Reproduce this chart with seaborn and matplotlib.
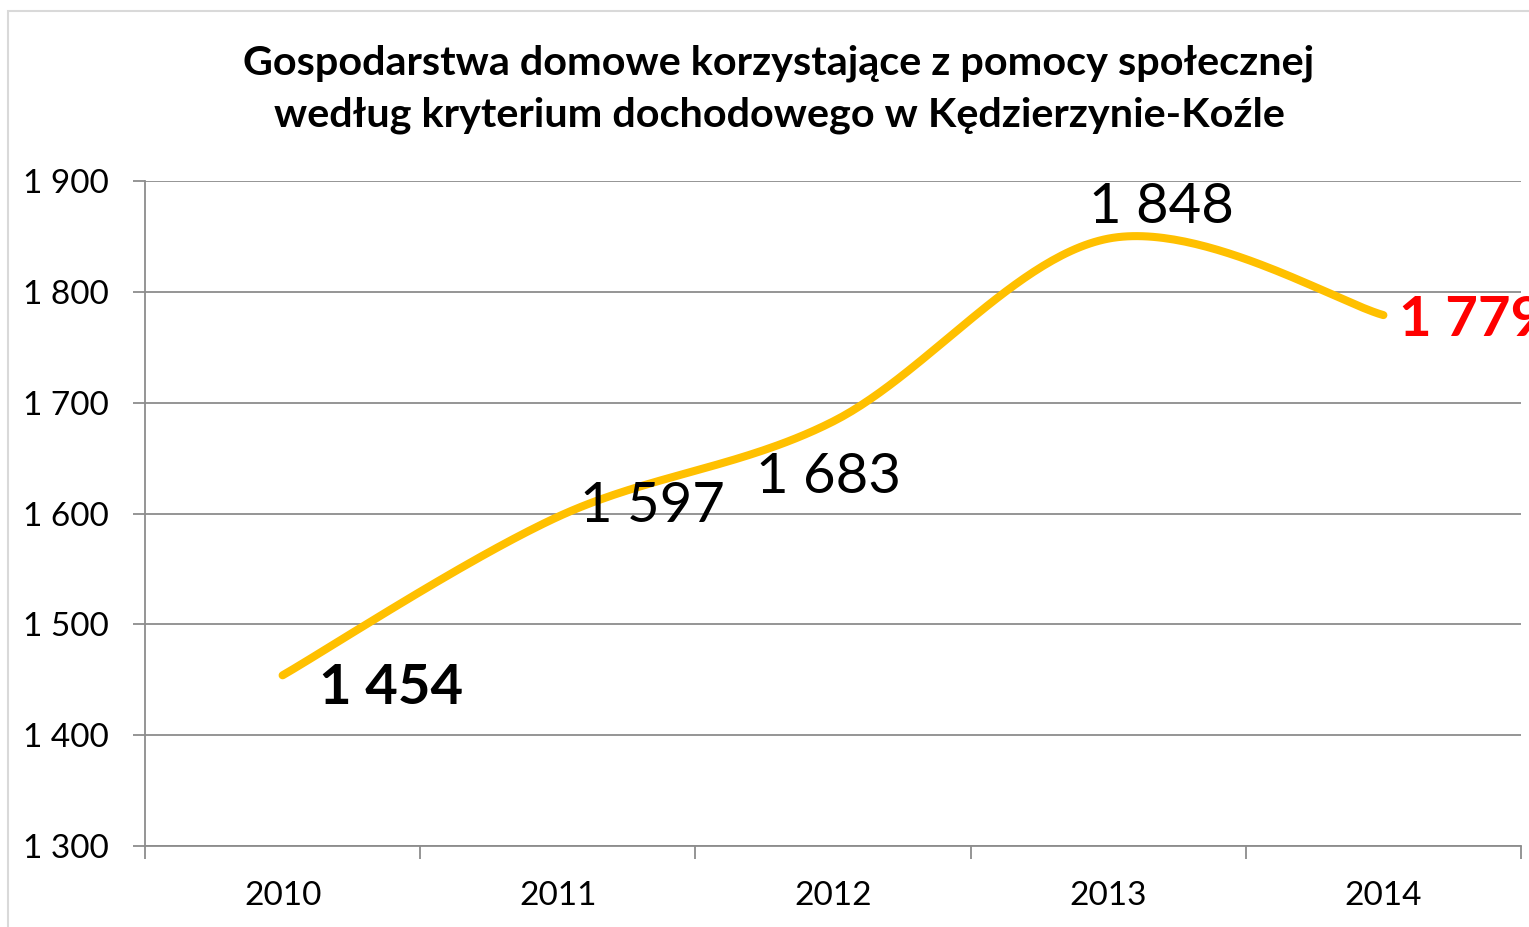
import numpy as np
import pandas as pd
import matplotlib
matplotlib.use('Agg')
import matplotlib.pyplot as plt
import seaborn as sns
from matplotlib.patches import Rectangle
from matplotlib.ticker import FixedLocator, FuncFormatter

years = ['2010', '2011', '2012', '2013', '2014']
households = [1454, 1597, 1683, 1848, 1779]
title = 'Gospodarstwa domowe korzystające z pomocy społecznej\nwedług kryterium dochodowego w Kędzierzynie-Koźle'

sns.set_theme(style='white')
plt.rcParams['font.family'] = ['Lato', 'DejaVu Sans']

fig = plt.figure(figsize=(15.29, 9.27), dpi=100)
ax = fig.add_axes([145 / 1529, 1 - 846 / 927, (1521 - 145) / 1529, (846 - 181) / 927])

# excel-like smoothed line (bezier through the points)
pts = np.array([[i, v] for i, v in enumerate(households)], dtype=float)
n = len(pts)
curve = []
t = np.linspace(0, 1, 60)[:, None]
for i in range(n - 1):
    p0 = pts[max(i - 1, 0)]
    p1 = pts[i]
    p2 = pts[i + 1]
    p3 = pts[min(i + 2, n - 1)]
    c1 = p1 + (p2 - p0) / 6
    c2 = p2 - (p3 - p1) / 6
    seg = (1 - t) ** 3 * p1 + 3 * (1 - t) ** 2 * t * c1 + 3 * (1 - t) * t ** 2 * c2 + t ** 3 * p2
    curve.append(seg if i == 0 else seg[1:])
curve = np.vstack(curve)
smooth = pd.DataFrame({'x': curve[:, 0], 'y': curve[:, 1]})

sns.lineplot(data=smooth, x='x', y='y', ax=ax, color='#FFC000', linewidth=5.8,
             sort=False, solid_capstyle='round', zorder=3)

ax.set_xlim(-0.5, 4.5)
ax.set_ylim(1300, 1900)
ax.set_yticks(range(1300, 2000, 100))
ax.yaxis.set_major_formatter(FuncFormatter(lambda v, p: f'{int(v):,}'.replace(',', ' ')))
ax.grid(axis='y', color='#8c8c8c', linewidth=1.3)
ax.set_xticks(range(len(years)))
ax.set_xticklabels(years)
ax.xaxis.set_minor_locator(FixedLocator(np.arange(-0.5, 5, 1)))
ax.tick_params(axis='x', which='major', length=0, labelsize=24, pad=25, colors='black')
ax.tick_params(axis='x', which='minor', length=9, width=1.3, color='#8c8c8c', direction='out', bottom=True)
ax.tick_params(axis='y', length=9, width=1.3, color='#8c8c8c', direction='out', left=True,
               labelsize=24, pad=17)
for lab in ax.get_yticklabels() + ax.get_xticklabels():
    lab.set_color('black')
ax.set_xlabel('')
ax.set_ylabel('')
for s in ['top', 'right']:
    ax.spines[s].set_visible(False)
for s in ['left', 'bottom']:
    ax.spines[s].set_color('#8c8c8c')
    ax.spines[s].set_linewidth(1.3)

fmt = [f'{v:,}'.replace(',', ' ') for v in households]
ax.annotate(fmt[0], (0, households[0]), xytext=(36, -13), textcoords='offset pixels',
            ha='left', va='center', fontsize=40.5, fontweight='bold', color='black', zorder=4)
ax.annotate(fmt[1], (1, households[1]), xytext=(95, 10), textcoords='offset pixels',
            ha='center', va='center', fontsize=40.5, color='black', zorder=4)
ax.annotate(fmt[2], (2, households[2]), xytext=(-5, -56), textcoords='offset pixels',
            ha='center', va='center', fontsize=40.5, color='black', zorder=4)
ax.annotate(fmt[3], (3, households[3]), xytext=(53, 31), textcoords='offset pixels',
            ha='center', va='center', fontsize=40.5, color='black', zorder=4)
# the 2014 label runs off the right edge, as in the original
ax.annotate(fmt[4], (4, households[4]), xytext=(16, -5), textcoords='offset pixels',
            ha='left', va='center', fontsize=40.5, fontweight='bold', color='#FF0000',
            zorder=4, annotation_clip=False)

fig.text(779 / 1529, 1 - 89 / 927, title, ha='center', va='center', fontsize=29.8,
         fontweight='bold', color='black', linespacing=1.49)

fig.patches.append(Rectangle((8 / 1529, -0.1), 1.2, 1 - 11 / 927 + 0.1, transform=fig.transFigure,
                             fill=False, edgecolor='#d9d9d9', linewidth=1.5))

fig.savefig('out.png', dpi=100)
